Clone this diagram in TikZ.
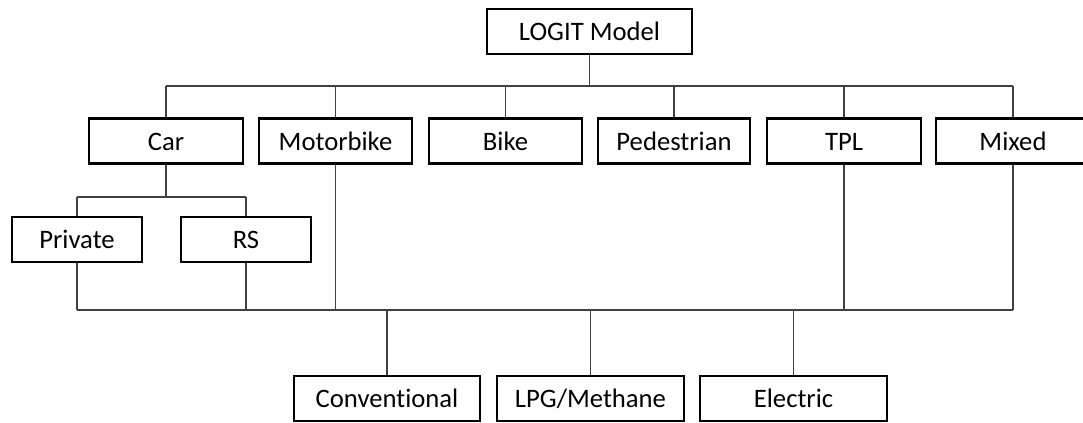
\documentclass[tikz,border=0pt]{standalone}
\usepackage{fontspec}
\setmainfont{Carlito}[Ligatures={NoCommon,NoRequired,NoContextual}]
\begin{document}
\begin{tikzpicture}[x=0.75pt,y=-0.75pt,
  box/.style={draw=black,line width=2pt,fill=white,rectangle,minimum height=33.75pt,inner sep=0pt,text height=14.2pt,text depth=0pt,font=\fontsize{20}{22}\selectfont},
  conn/.style={draw=black!75,line width=1.2pt}]
\useasboundingbox (0,0) rectangle (1083,423);
% nodes
\node[box,minimum width=153.75pt] (logit) at (589.5,31.5) {LOGIT Model};
\node[box,minimum width=115.5pt] (car) at (166,141) {Car};
\node[box,minimum width=114.75pt] (moto) at (335.5,141) {Motorbike};
\node[box,minimum width=114.75pt] (bike) at (505.5,141) {Bike};
\node[box,minimum width=114pt] (ped) at (674,141) {Pedestrian};
\node[box,minimum width=115.5pt] (tpl) at (844,141) {TPL};
\node[box,minimum width=115.5pt] (mix) at (1013,141) {Mixed};
\node[box,minimum width=97.5pt] (priv) at (77,239.5) {Private};
\node[box,minimum width=97.5pt] (rs) at (246,239.5) {RS};
\node[box,minimum width=139.5pt] (conv) at (387,398.5) {Conventional};
\node[box,minimum width=140.25pt] (lpg) at (590.5,398.5) {LPG/Methane};
\node[box,minimum width=140.25pt] (elec) at (793.5,398.5) {Electric};
% bus coordinates
\coordinate (tb) at (0,86);
\coordinate (sb) at (0,197);
\coordinate (bb) at (0,310);
% top level
\draw[conn] (logit.south) -- (logit.south |- tb);
\draw[conn] (car.north |- tb) -- (mix.north |- tb);
\foreach \n in {car,moto,bike,ped,tpl,mix}{
  \draw[conn] (\n.north) -- (\n.north |- tb);
}
% car sub-level
\draw[conn] (car.south) -- (car.south |- sb);
\draw[conn] (priv.north |- sb) -- (rs.north |- sb);
\draw[conn] (priv.north) -- (priv.north |- sb);
\draw[conn] (rs.north) -- (rs.north |- sb);
% bottom bus
\draw[conn] (priv.south |- bb) -- (mix.south |- bb);
\foreach \n in {priv,rs,moto,tpl,mix}{
  \draw[conn] (\n.south) -- (\n.south |- bb);
}
\foreach \n in {conv,lpg,elec}{
  \draw[conn] (\n.north) -- (\n.north |- bb);
}
\end{tikzpicture}
\end{document}
